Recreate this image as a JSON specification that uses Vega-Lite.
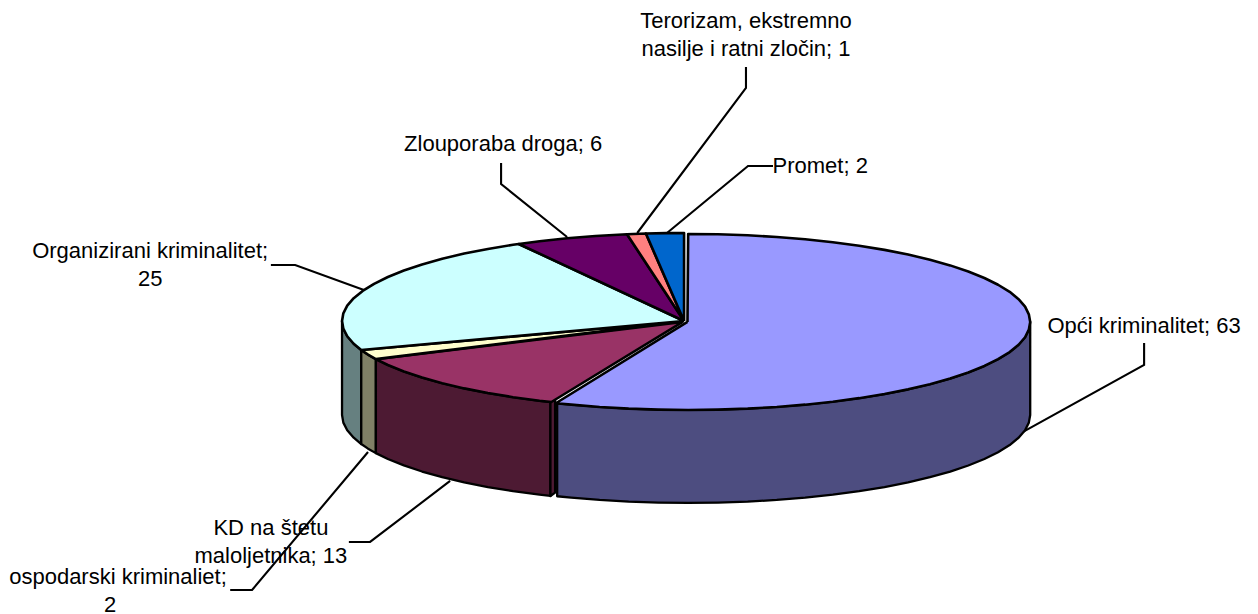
{
"$schema":"https://vega.github.io/schema/vega-lite/v6.json",
"width":1258,"height":614,"padding":0,
"autosize":{"type":"none"},
"background":"white",
"config":{"view":{"stroke":null}},
"encoding":{
 "x":{"field":"u","type":"quantitative","axis":null,"scale":{"domain":[-2,1.678],"nice":false,"zero":false}},
 "y":{"field":"v","type":"quantitative","axis":null,"scale":{"domain":[-3.33,3.648],"nice":false,"zero":false}}
},
"layer":[
{"data":{"values":[
{"k":"Terorizam","u":0.181,"v":2.886},{"k":"Terorizam","u":0.181,"v":2.648},{"k":"Terorizam","u":-0.137,"v":1.0},
{"k":"Promet","u":0.26,"v":1.761},{"k":"Promet","u":0.187,"v":1.761},{"k":"Promet","u":-0.05,"v":1.0},
{"k":"Zlouporaba","u":-0.535,"v":1.795},{"k":"Zlouporaba","u":-0.535,"v":1.557},{"k":"Zlouporaba","u":-0.342,"v":0.955},
{"k":"Organizirani","u":-1.208,"v":0.636},{"k":"Organizirani","u":-1.137,"v":0.636},{"k":"Organizirani","u":-0.936,"v":0.352},
{"k":"Opci","u":1.345,"v":-0.25},{"k":"Opci","u":1.345,"v":-0.5},{"k":"Opci","u":0.991,"v":-1.261},
{"k":"KD","u":-0.98,"v":-2.511},{"k":"KD","u":-0.918,"v":-2.511},{"k":"KD","u":-0.684,"v":-1.818},
{"k":"Gospodarski","u":-1.327,"v":-3.057},{"k":"Gospodarski","u":-1.263,"v":-3.057},{"k":"Gospodarski","u":-0.924,"v":-1.489}
]},
"mark":{"type":"line","stroke":"#000","strokeWidth":2.1},
"encoding":{"detail":{"field":"k"},"order":{"value":null}}},
{"data":{"values":[
{"slice":"Organizirani","u":-0.9438,"v":-0.3305,"v2":-1.3985},
{"slice":"Organizirani","u":-0.9659,"v":-0.2588,"v2":-1.3268},
{"slice":"Organizirani","u":-0.9848,"v":-0.1736,"v2":-1.2416},
{"slice":"Organizirani","u":-0.9962,"v":-0.0872,"v2":-1.1552},
{"slice":"Organizirani","u":-1,"v":0,"v2":-1.068},
{"slice":"Gospodarski","u":-0.9011,"v":-0.4337,"v2":-1.5017},
{"slice":"Gospodarski","u":-0.9239,"v":-0.3827,"v2":-1.4507},
{"slice":"Gospodarski","u":-0.9438,"v":-0.3305,"v2":-1.3985},
{"slice":"KD","u":-0.3907,"v":-0.9205,"v2":-1.9885},
{"slice":"KD","u":-0.4226,"v":-0.9063,"v2":-1.9743},
{"slice":"KD","u":-0.5,"v":-0.866,"v2":-1.934},
{"slice":"KD","u":-0.5736,"v":-0.8192,"v2":-1.8872},
{"slice":"KD","u":-0.6428,"v":-0.766,"v2":-1.834},
{"slice":"KD","u":-0.7071,"v":-0.7071,"v2":-1.7751},
{"slice":"KD","u":-0.766,"v":-0.6428,"v2":-1.7108},
{"slice":"KD","u":-0.8192,"v":-0.5736,"v2":-1.6416},
{"slice":"KD","u":-0.866,"v":-0.5,"v2":-1.568},
{"slice":"KD","u":-0.9011,"v":-0.4337,"v2":-1.5017},
{"slice":"KD rez","u":-0.377,"v":-0.88,"v2":-1.95},
{"slice":"KD rez","u":-0.3907,"v":-0.9205,"v2":-1.9885},
{"slice":"Opci","u":1.012,"v":-0.011,"v2":-1.068},
{"slice":"Opci","u":1.008,"v":-0.098,"v2":-1.155},
{"slice":"Opci","u":0.997,"v":-0.185,"v2":-1.242},
{"slice":"Opci","u":0.978,"v":-0.27,"v2":-1.327},
{"slice":"Opci","u":0.952,"v":-0.353,"v2":-1.41},
{"slice":"Opci","u":0.918,"v":-0.434,"v2":-1.491},
{"slice":"Opci","u":0.878,"v":-0.511,"v2":-1.568},
{"slice":"Opci","u":0.831,"v":-0.585,"v2":-1.642},
{"slice":"Opci","u":0.778,"v":-0.654,"v2":-1.711},
{"slice":"Opci","u":0.719,"v":-0.718,"v2":-1.775},
{"slice":"Opci","u":0.655,"v":-0.777,"v2":-1.834},
{"slice":"Opci","u":0.586,"v":-0.83,"v2":-1.887},
{"slice":"Opci","u":0.512,"v":-0.877,"v2":-1.934},
{"slice":"Opci","u":0.435,"v":-0.917,"v2":-1.974},
{"slice":"Opci","u":0.354,"v":-0.951,"v2":-2.008},
{"slice":"Opci","u":0.271,"v":-0.977,"v2":-2.034},
{"slice":"Opci","u":0.186,"v":-0.996,"v2":-2.053},
{"slice":"Opci","u":0.099,"v":-1.007,"v2":-2.064},
{"slice":"Opci","u":0.012,"v":-1.011,"v2":-2.068},
{"slice":"Opci","u":-0.075,"v":-1.007,"v2":-2.064},
{"slice":"Opci","u":-0.162,"v":-0.996,"v2":-2.053},
{"slice":"Opci","u":-0.247,"v":-0.977,"v2":-2.034},
{"slice":"Opci","u":-0.33,"v":-0.951,"v2":-2.008},
{"slice":"Opci","u":-0.371,"v":-0.935,"v2":-1.992}
]},
"mark":{"type":"area","stroke":"#000","strokeWidth":2.3,"strokeJoin":"round"},
"encoding":{
 "y2":{"field":"v2"},
 "fill":{"field":"slice","type":"nominal","legend":null,"sort":null,"scale":{"domain":["Organizirani","Gospodarski","KD","KD rez","Opci"],"range":["#668080","#808066","#4D1A33","#4D1A33","#4D4D80"]}}
}},
{"data":{"values":[
{"slice":"KD","u":-0.004,"v":-0.011},{"slice":"KD","u":-0.388,"v":-0.9205},{"slice":"KD","u":-0.4226,"v":-0.9063},{"slice":"KD","u":-0.5,"v":-0.866},{"slice":"KD","u":-0.5736,"v":-0.8192},{"slice":"KD","u":-0.6428,"v":-0.766},{"slice":"KD","u":-0.7071,"v":-0.7071},{"slice":"KD","u":-0.766,"v":-0.6428},{"slice":"KD","u":-0.8192,"v":-0.5736},{"slice":"KD","u":-0.866,"v":-0.5},{"slice":"KD","u":-0.9011,"v":-0.4337},{"slice":"KD","u":-0.004,"v":-0.011},
{"slice":"Gospodarski","u":0,"v":0},{"slice":"Gospodarski","u":-0.9011,"v":-0.4337},{"slice":"Gospodarski","u":-0.9239,"v":-0.3827},{"slice":"Gospodarski","u":-0.9438,"v":-0.3305},{"slice":"Gospodarski","u":0,"v":0},
{"slice":"Organizirani","u":0,"v":0},{"slice":"Organizirani","u":-0.9438,"v":-0.3305},{"slice":"Organizirani","u":-0.9659,"v":-0.2588},{"slice":"Organizirani","u":-0.9848,"v":-0.1736},{"slice":"Organizirani","u":-0.9962,"v":-0.0872},{"slice":"Organizirani","u":-1,"v":0},{"slice":"Organizirani","u":-0.9962,"v":0.0872},{"slice":"Organizirani","u":-0.9848,"v":0.1736},{"slice":"Organizirani","u":-0.9659,"v":0.2588},{"slice":"Organizirani","u":-0.9397,"v":0.342},{"slice":"Organizirani","u":-0.9063,"v":0.4226},{"slice":"Organizirani","u":-0.866,"v":0.5},{"slice":"Organizirani","u":-0.8192,"v":0.5736},{"slice":"Organizirani","u":-0.766,"v":0.6428},{"slice":"Organizirani","u":-0.7071,"v":0.7071},{"slice":"Organizirani","u":-0.6428,"v":0.766},{"slice":"Organizirani","u":-0.5736,"v":0.8192},{"slice":"Organizirani","u":-0.5,"v":0.866},{"slice":"Organizirani","u":-0.4833,"v":0.8755},{"slice":"Organizirani","u":0,"v":0},
{"slice":"Zlouporaba","u":0,"v":0},{"slice":"Zlouporaba","u":-0.4833,"v":0.8755},{"slice":"Zlouporaba","u":-0.4226,"v":0.9063},{"slice":"Zlouporaba","u":-0.342,"v":0.9397},{"slice":"Zlouporaba","u":-0.2588,"v":0.9659},{"slice":"Zlouporaba","u":-0.1668,"v":0.986},{"slice":"Zlouporaba","u":0,"v":0},
{"slice":"Terorizam","u":0,"v":0},{"slice":"Terorizam","u":-0.1668,"v":0.986},{"slice":"Terorizam","u":-0.1115,"v":0.9938},{"slice":"Terorizam","u":0,"v":0},
{"slice":"Promet","u":0,"v":0},{"slice":"Promet","u":-0.1115,"v":0.9938},{"slice":"Promet","u":-0.0523,"v":0.9986},{"slice":"Promet","u":0,"v":1},{"slice":"Promet","u":0,"v":0},
{"slice":"Opci","u":0.01,"v":-0.011},{"slice":"Opci","u":0.012,"v":0.989},{"slice":"Opci","u":0.099,"v":0.985},{"slice":"Opci","u":0.186,"v":0.974},{"slice":"Opci","u":0.271,"v":0.955},{"slice":"Opci","u":0.354,"v":0.929},{"slice":"Opci","u":0.435,"v":0.895},{"slice":"Opci","u":0.512,"v":0.855},{"slice":"Opci","u":0.586,"v":0.808},{"slice":"Opci","u":0.655,"v":0.755},{"slice":"Opci","u":0.719,"v":0.696},{"slice":"Opci","u":0.778,"v":0.632},{"slice":"Opci","u":0.831,"v":0.563},{"slice":"Opci","u":0.878,"v":0.489},{"slice":"Opci","u":0.918,"v":0.412},{"slice":"Opci","u":0.952,"v":0.331},{"slice":"Opci","u":0.978,"v":0.248},{"slice":"Opci","u":0.997,"v":0.163},{"slice":"Opci","u":1.008,"v":0.076},{"slice":"Opci","u":1.012,"v":-0.011},{"slice":"Opci","u":1.008,"v":-0.098},{"slice":"Opci","u":0.997,"v":-0.185},{"slice":"Opci","u":0.978,"v":-0.27},{"slice":"Opci","u":0.952,"v":-0.353},{"slice":"Opci","u":0.918,"v":-0.434},{"slice":"Opci","u":0.878,"v":-0.511},{"slice":"Opci","u":0.831,"v":-0.585},{"slice":"Opci","u":0.778,"v":-0.654},{"slice":"Opci","u":0.719,"v":-0.718},{"slice":"Opci","u":0.655,"v":-0.777},{"slice":"Opci","u":0.586,"v":-0.83},{"slice":"Opci","u":0.512,"v":-0.877},{"slice":"Opci","u":0.435,"v":-0.917},{"slice":"Opci","u":0.354,"v":-0.951},{"slice":"Opci","u":0.271,"v":-0.977},{"slice":"Opci","u":0.186,"v":-0.996},{"slice":"Opci","u":0.099,"v":-1.007},{"slice":"Opci","u":0.012,"v":-1.011},{"slice":"Opci","u":-0.075,"v":-1.007},{"slice":"Opci","u":-0.162,"v":-0.996},{"slice":"Opci","u":-0.247,"v":-0.977},{"slice":"Opci","u":-0.33,"v":-0.951},{"slice":"Opci","u":-0.375,"v":-0.935},{"slice":"Opci","u":0.01,"v":-0.011}
]},
"mark":{"type":"line","stroke":"#000","strokeWidth":2.6,"strokeJoin":"round"},
"encoding":{
 "order":{"value":null},
 "fill":{"field":"slice","type":"nominal","legend":null,"sort":null,"scale":{"domain":["KD","Gospodarski","Organizirani","Zlouporaba","Terorizam","Promet","Opci"],"range":["#993366","#FFFFCC","#CCFFFF","#660066","#FF8080","#0066CC","#9999FF"]}}
}},
{"data":{"values":[
{"label":"Terorizam, ekstremno\nnasilje i ratni zločin; 1","u":0.181,"v":3.409},
{"label":"Promet; 2","u":0.398,"v":1.762},
{"label":"Zlouporaba droga; 6","u":-0.529,"v":2.012},
{"label":"Organizirani kriminalitet;\n25","u":-1.561,"v":0.796},
{"label":"Opći kriminalitet; 63","u":1.345,"v":-0.057},
{"label":"KD na štetu\nmaloljetnika; 13","u":-1.208,"v":-2.352},
{"label":"ospodarski kriminaliet;","u":-1.655,"v":-2.909},
{"label":"2","u":-1.678,"v":-3.227}
]},
"mark":{"type":"text","font":"Liberation Sans","fontSize":22,"lineHeight":28,"lineBreak":"\n","align":"center","baseline":"middle","color":"#000"},
"encoding":{"text":{"field":"label"}}}
],
"resolve":{"scale":{"fill":"independent"}}
}
